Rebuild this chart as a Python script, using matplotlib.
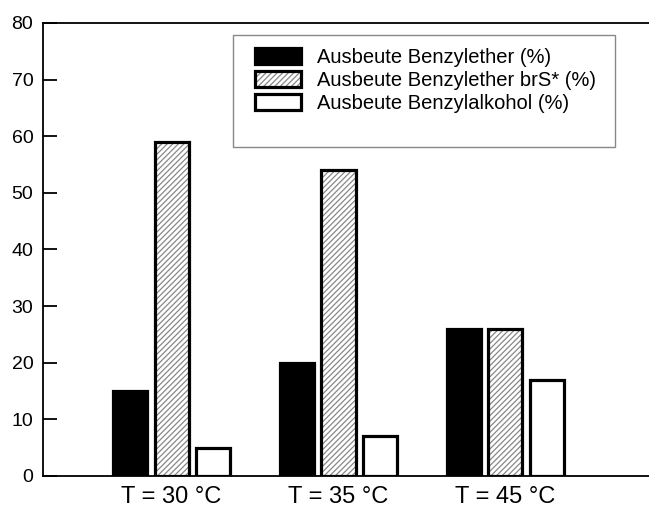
import matplotlib
matplotlib.use("Agg")
import matplotlib.pyplot as plt
from matplotlib.patches import Rectangle
import numpy as np

plt.rcParams['font.family'] = ['Liberation Sans', 'DejaVu Sans']
plt.rcParams['hatch.linewidth'] = 0.9

categories = ["T = 30 °C", "T = 35 °C", "T = 45 °C"]
ether = [15, 20, 26]
ether_brs = [59, 54, 26]
alcohol = [5, 7, 17]
labels = ["Ausbeute Benzylether (%)", "Ausbeute Benzylether brS* (%)",
          "Ausbeute Benzylalkohol (%)"]

W, H = 649, 508
fig = plt.figure(figsize=(W / 100, H / 100), dpi=100)
ax = fig.add_axes([43 / W, 1 - 476 / H, 1 - 43 / W, (476 - 23) / H])

x = np.arange(len(categories))
w = 0.204
off = 0.25
elw = 2.3

b1 = ax.bar(x - off, ether, w, color="black", edgecolor="black", linewidth=elw)
b2h = ax.bar(x, ether_brs, w, color="white", edgecolor="#888888", hatch="//////",
             linewidth=0)
b2e = ax.bar(x, ether_brs, w, fill=False, edgecolor="black", linewidth=elw)
b3 = ax.bar(x + off, alcohol, w, color="white", edgecolor="black", linewidth=elw)

ax.set_xlim(-0.77, 2.86)
ax.set_ylim(0, 80)
ax.set_yticks(range(0, 81, 10))
ax.set_xticks(x)
ax.set_xticklabels(categories, fontsize=17)
ax.tick_params(axis="x", length=0, pad=7)
ax.tick_params(axis="y", direction="in", length=10, width=1.3, labelsize=14, pad=7)
ax.spines["right"].set_visible(False)
for s in ("left", "top", "bottom"):
    ax.spines[s].set_linewidth(1.3)

# legend frame drawn separately (taller than the entries)
fig.patches.append(Rectangle((233 / W, 1 - 147 / H), (615 - 233) / W, (147 - 35) / H,
                             transform=fig.transFigure, fill=True, facecolor="white",
                             edgecolor="#888888", linewidth=1.0, zorder=5))

leg = fig.legend([b1[0], (b2h[0], b2e[0]), b3[0]], labels,
                 loc="upper left", bbox_to_anchor=(255 / W, 1 - 48 / H),
                 fontsize=14.5, frameon=False, borderpad=0, handlelength=2.3,
                 handleheight=0.85, labelspacing=0.2, handletextpad=0.8,
                 borderaxespad=0)
leg.set_zorder(6)

fig.savefig("out.png", dpi=100)
